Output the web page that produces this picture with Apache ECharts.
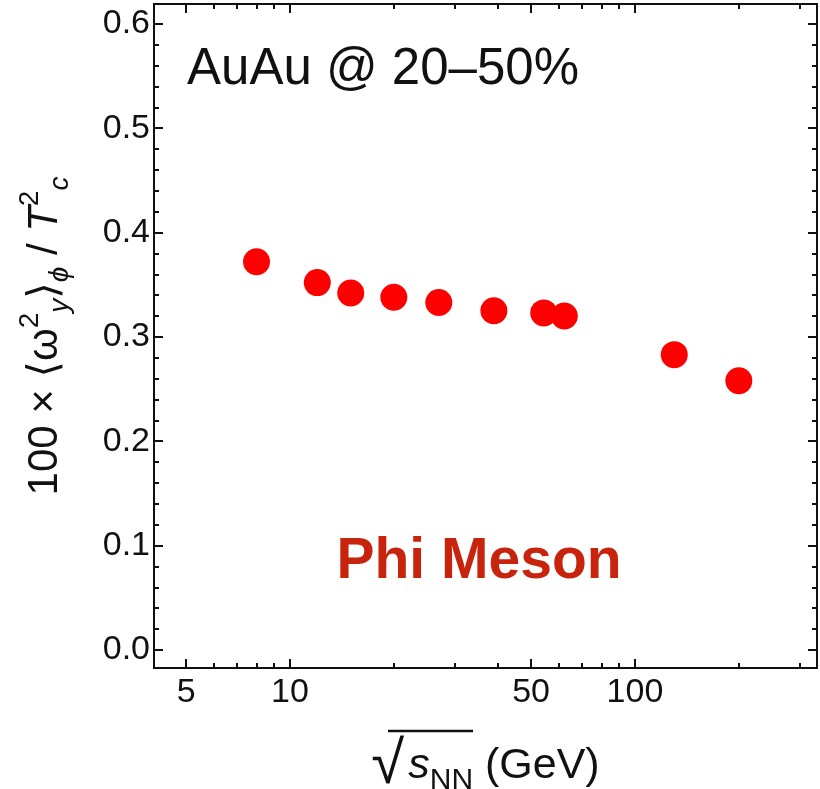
<!DOCTYPE html>
<html>
<head>
<meta charset="utf-8">
<script src="https://cdn.jsdelivr.net/npm/echarts@6/dist/echarts.min.js"></script>
<style>html,body{margin:0;padding:0;background:#fff}#c{width:820px;height:789px}</style>
</head>
<body>
<div id="c"></div>
<script>
// ---- data ----
const energies = [8.0, 12.0, 15.0, 20.0, 27.0, 39.0, 54.4, 62.4, 130, 200];
const vorticity = [0.372, 0.352, 0.342, 0.338, 0.333, 0.325, 0.323, 0.320, 0.283, 0.258];
const xMajorTicks = [5, 10, 50, 100];
const xMinorTicks = [6, 7, 8, 9, 20, 30, 40, 60, 70, 80, 90, 200, 300];
const yMajorTicks = [0, 0.1, 0.2, 0.3, 0.4, 0.5, 0.6];
const yMinorTicks = [0.02,0.04,0.06,0.08,0.12,0.14,0.16,0.18,0.22,0.24,0.26,0.28,0.32,0.34,0.36,0.38,0.42,0.44,0.46,0.48,0.52,0.54,0.56,0.58];
const xRange = [4.035, 337];
const yRange = [-0.0173, 0.619];

const FONT = "'Liberation Sans', Arial, 'DejaVu Sans', sans-serif";
const INK = '#111';

function xAx(pos, ticks, len, labels) {
  return {
    type: 'log', position: pos, min: xRange[0], max: xRange[1],
    axisLine: {show: false, onZero: false},
    splitLine: {show: false},
    axisTick: {show: true, inside: true, length: len, customValues: ticks, lineStyle: {color: INK, width: 2}},
    axisLabel: labels ? {show: true, customValues: ticks, fontSize: 34, fontFamily: FONT, color: INK, margin: 8} : {show: false}
  };
}
function yAx(pos, ticks, len, labels) {
  return {
    type: 'value', position: pos, min: yRange[0], max: yRange[1],
    axisLine: {show: false, onZero: false},
    splitLine: {show: false},
    axisTick: {show: true, inside: true, length: len, customValues: ticks, lineStyle: {color: INK, width: 2}},
    axisLabel: labels ? {show: true, customValues: ticks, fontSize: 34, fontFamily: FONT, color: INK, margin: 4,
      formatter: v => v.toFixed(1)} : {show: false}
  };
}

const xAxes = [xAx('bottom', xMajorTicks, 9, true), xAx('bottom', xMinorTicks, 5, false),
               xAx('top', xMajorTicks, 9, false), xAx('top', xMinorTicks, 5, false)];
xAxes[0].name = '{rad|√}{s|s}{sub|NN}{n| (GeV)}';
xAxes[0].nameLocation = 'middle';
xAxes[0].nameGap = 68;
xAxes[0].nameTextStyle = {
  fontFamily: FONT, color: INK,
  rich: {
    rad: {fontSize: 60, fontFamily: FONT, color: INK, lineHeight: 60},
    s: {fontSize: 43, fontStyle: 'italic', fontFamily: FONT, color: INK, lineHeight: 60, padding:[0,0,0,4]},
    sub: {fontSize: 30, fontFamily: FONT, color: INK, verticalAlign: 'bottom', lineHeight: 44},
    n: {fontSize: 43, fontFamily: FONT, color: INK, lineHeight: 60}
  }
};

const yAxes = [yAx('left', yMajorTicks, 9, true), yAx('left', yMinorTicks, 5, false),
               yAx('right', yMajorTicks, 9, false), yAx('right', yMinorTicks, 5, false)];
yAxes[0].name = '{n|100 × ⟨ω}{sup|2}{sub|y}{n|⟩}{sub|ϕ}{n| / }{it|T}{sup|2}{sub|c}';
yAxes[0].nameLocation = 'middle';
yAxes[0].nameRotate = 90;
yAxes[0].nameGap = 80;
yAxes[0].nameTextStyle = {
  fontFamily: FONT, color: INK,
  rich: {
    n: {fontSize: 42, fontFamily: FONT, color: INK, lineHeight: 58},
    it: {fontSize: 42, fontStyle: 'italic', fontFamily: FONT, color: INK, lineHeight: 58},
    sup: {fontSize: 28, fontFamily: FONT, color: INK, verticalAlign: 'top', lineHeight: 32},
    sub: {fontSize: 28, fontStyle: 'italic', fontFamily: FONT, color: INK, verticalAlign: 'bottom', lineHeight: 32}
  }
};

const chart = echarts.init(document.getElementById('c'), null, {renderer: 'canvas'});
chart.setOption({
  animation: false,
  backgroundColor: '#fff',
  grid: {left: 154, right: 3, top: 4, bottom: 121, show: true, borderColor: INK, borderWidth: 2,
         backgroundColor: 'transparent', containLabel: false, outerBoundsMode: 'none'},
  xAxis: xAxes,
  yAxis: yAxes,
  series: [{
    type: 'scatter', xAxisIndex: 0, yAxisIndex: 0,
    data: energies.map((e, i) => [e, vorticity[i]]),
    symbol: 'circle', symbolSize: 27,
    itemStyle: {color: '#ff0000', opacity: 1}
  }],
  graphic: [
    {type: 'text', left: 187, top: 44, style: {text: 'AuAu @ 20–50%', font: '51px ' + FONT, fill: INK}},
    {type: 'text', x: 479, y: 562, style: {text: 'Phi Meson', font: 'bold 57px ' + FONT, fill: '#c8230c', align: 'center', verticalAlign: 'middle'}},
    {type: 'line', shape: {x1: 388, y1: 731, x2: 473, y2: 731}, style: {stroke: INK, lineWidth: 2.5}}
  ]
});
</script>
</body>
</html>
